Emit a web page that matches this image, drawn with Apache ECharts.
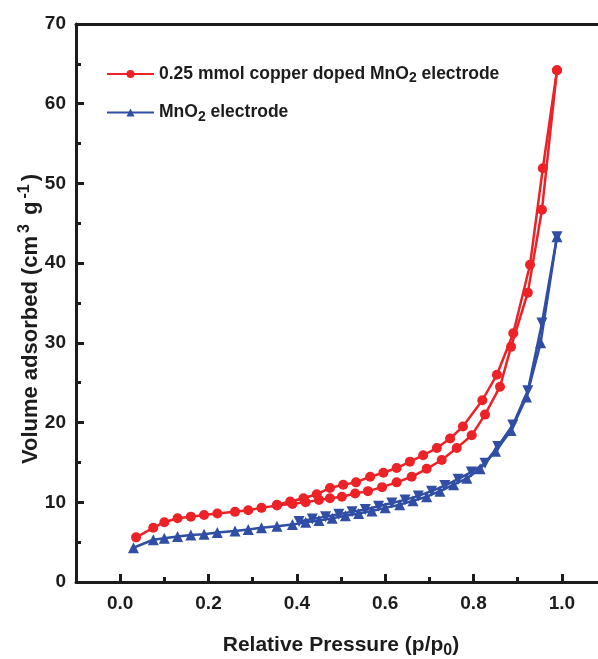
<!DOCTYPE html>
<html>
<head>
<meta charset="utf-8">
<script src="https://cdn.jsdelivr.net/npm/echarts@6/dist/echarts.min.js"></script>
<style>
  html, body { margin: 0; padding: 0; background: #fff; }
  #chart { width: 598px; height: 659px; }
</style>
</head>
<body>
<div id="chart"></div>
<script>
// copper doped MnO2 - adsorption branch
var cuAdsP = [0.036, 0.075, 0.10, 0.13, 0.16, 0.19, 0.22, 0.26, 0.29, 0.32, 0.355, 0.39, 0.42, 0.45, 0.475, 0.502, 0.532, 0.561, 0.593, 0.626, 0.66, 0.694, 0.728, 0.762, 0.796, 0.826, 0.86, 0.885, 0.923, 0.955, 0.989];
var cuAdsV = [5.6, 6.8, 7.5, 8.0, 8.2, 8.4, 8.6, 8.8, 9.0, 9.3, 9.6, 9.8, 10.0, 10.3, 10.5, 10.7, 11.1, 11.4, 11.9, 12.5, 13.2, 14.2, 15.3, 16.8, 18.4, 21.0, 24.5, 29.5, 36.3, 46.7, 64.2];
// copper doped MnO2 - desorption branch
var cuDesP = [0.989, 0.957, 0.928, 0.89, 0.853, 0.82, 0.776, 0.747, 0.717, 0.686, 0.656, 0.626, 0.596, 0.566, 0.534, 0.505, 0.475, 0.445, 0.415, 0.385, 0.355];
var cuDesV = [64.2, 51.9, 39.8, 31.2, 26.0, 22.8, 19.5, 18.0, 16.8, 15.9, 15.1, 14.3, 13.7, 13.2, 12.5, 12.2, 11.8, 11.0, 10.5, 10.1, 9.7];
// MnO2 - adsorption branch
var mnAdsP = [0.03, 0.075, 0.10, 0.13, 0.16, 0.19, 0.22, 0.26, 0.29, 0.32, 0.355, 0.39, 0.42, 0.45, 0.48, 0.51, 0.54, 0.57, 0.60, 0.633, 0.663, 0.694, 0.724, 0.755, 0.785, 0.815, 0.85, 0.885, 0.92, 0.952, 0.989];
var mnAdsV = [4.3, 5.3, 5.5, 5.7, 5.9, 6.0, 6.2, 6.4, 6.6, 6.8, 7.0, 7.2, 7.5, 7.7, 8.0, 8.3, 8.6, 8.9, 9.3, 9.7, 10.2, 10.7, 11.4, 12.2, 13.0, 14.2, 16.4, 19.0, 23.2, 30.0, 43.3];
// MnO2 - desorption branch
var mnDesP = [0.989, 0.955, 0.923, 0.889, 0.855, 0.826, 0.795, 0.765, 0.735, 0.705, 0.675, 0.645, 0.615, 0.585, 0.555, 0.525, 0.495, 0.465, 0.435, 0.405];
var mnDesV = [43.3, 32.5, 24.0, 19.7, 17.0, 14.9, 13.8, 12.9, 12.1, 11.4, 10.8, 10.3, 9.9, 9.5, 9.1, 8.8, 8.5, 8.2, 7.9, 7.6];

var xMajor = [0.0, 0.2, 0.4, 0.6, 0.8, 1.0];
var xMinor = [0.1, 0.3, 0.5, 0.7, 0.9];

var RED = '#ec2227';
var BLUE = '#2f4ea4';
var INK = '#1c1c1c';
var FONT = 'Liberation Sans, Arial, sans-serif';

function pairs(xs, ys) {
    var out = [];
    for (var i = 0; i < xs.length; i++) out.push([xs[i], ys[i]]);
    return out;
}

var chart = echarts.init(document.getElementById('chart'));

chart.setOption({
    animation: false,
    grid: {
        left: 76, right: -8, top: 24, bottom: 77,
        outerBoundsMode: 'none'
    },
    legend: {
        orient: 'vertical',
        left: 101, top: 60,
        itemWidth: 47, itemHeight: 10,
        itemGap: 18,
        data: ['Cu', 'Mn'],
        formatter: function (name) {
            return name === 'Cu'
                ? '{a|0.25 mmol copper doped MnO}{s|2}{a| electrode}'
                : '{a|MnO}{s|2}{a| electrode}';
        },
        textStyle: {
            rich: {
                a: { fontFamily: FONT, fontWeight: 'bold', fontSize: 17.5, color: INK },
                s: { fontFamily: FONT, fontWeight: 'bold', fontSize: 14, color: INK, verticalAlign: 'bottom', padding: [9, 0, 0, 0] }
            }
        }
    },
    xAxis: [{
        type: 'value', min: -0.1, max: 1.1,
        splitLine: { show: false },
        axisLine: { onZero: false, lineStyle: { color: INK, width: 3 } },
        axisTick: { inside: true, length: 8, customValues: xMajor, lineStyle: { color: INK, width: 3 } },
        axisLabel: {
            customValues: xMajor, margin: 12,
            fontFamily: FONT, fontWeight: 'bold', fontSize: 19, color: INK,
            formatter: function (v) { return v.toFixed(1); }
        },
        name: '{a|Relative Pressure (p/p}{s|0}{a|)}',
        nameLocation: 'middle', nameGap: 49,
        nameTextStyle: {
            rich: {
                a: { fontFamily: FONT, fontWeight: 'bold', fontSize: 21, color: INK },
                s: { fontFamily: FONT, fontWeight: 'bold', fontSize: 16, color: INK, verticalAlign: 'bottom', padding: [12, 0, 0, 0] }
            }
        }
    }, {
        type: 'value', min: -0.1, max: 1.1, position: 'bottom',
        splitLine: { show: false },
        axisLine: { show: false },
        axisTick: { inside: true, length: 5, customValues: xMinor, lineStyle: { color: INK, width: 3 } },
        axisLabel: { show: false }
    }, {
        type: 'value', min: -0.1, max: 1.1, position: 'top',
        splitLine: { show: false },
        axisLine: { onZero: false, lineStyle: { color: INK, width: 3 } },
        axisTick: { show: false },
        axisLabel: { show: false }
    }],
    yAxis: {
        type: 'value', min: 0, max: 70, interval: 10,
        splitLine: { show: false },
        axisLine: { onZero: false, lineStyle: { color: INK, width: 3 } },
        axisTick: { inside: true, length: 8, lineStyle: { color: INK, width: 3 } },
        minorTick: { show: true, splitNumber: 2, length: 5, lineStyle: { color: INK, width: 3 } },
        axisLabel: { margin: 10, fontFamily: FONT, fontWeight: 'bold', fontSize: 19, color: INK },
        name: '{a|Volume adsorbed (cm}{u|3}{a| g}{u|-1}{a|)}',
        nameLocation: 'middle', nameRotate: 90, nameGap: 31,
        nameMoveOverlap: false,
        nameTextStyle: {
            padding: [0, 32, 0, 0],
            rich: {
                a: { fontFamily: FONT, fontWeight: 'bold', fontSize: 22, color: INK },
                u: { fontFamily: FONT, fontWeight: 'bold', fontSize: 16, color: INK, verticalAlign: 'top', padding: [0, 3, 12, 3] }
            }
        }
    },
    series: [{
        name: 'Cu', type: 'line', data: pairs(cuAdsP, cuAdsV),
        symbol: 'circle', symbolSize: 10,
        lineStyle: { color: RED, width: 2.5 }, itemStyle: { color: RED }
    }, {
        name: 'Cu', type: 'line', data: pairs(cuDesP, cuDesV),
        symbol: 'circle', symbolSize: 10,
        lineStyle: { color: RED, width: 2.5 }, itemStyle: { color: RED }
    }, {
        name: 'Mn', type: 'line', data: pairs(mnAdsP, mnAdsV),
        symbol: 'triangle', symbolSize: 11,
        lineStyle: { color: BLUE, width: 2.5 }, itemStyle: { color: BLUE }
    }, {
        name: 'Mn', type: 'line', data: pairs(mnDesP, mnDesV),
        symbol: 'triangle', symbolSize: 11, symbolRotate: 180,
        lineStyle: { color: BLUE, width: 2.5 }, itemStyle: { color: BLUE }
    }]
});
</script>
</body>
</html>
